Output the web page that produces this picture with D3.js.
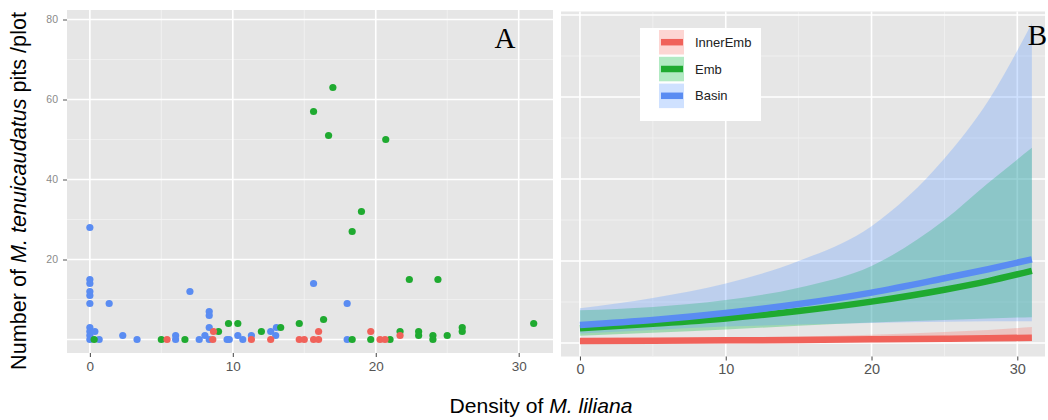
<!DOCTYPE html>
<html><head><meta charset="utf-8">
<script src="https://cdnjs.cloudflare.com/ajax/libs/d3/7.8.5/d3.min.js"></script>
<style>body{margin:0;background:#fff;} svg{display:block;font-family:"Liberation Sans",Arial,sans-serif;}</style>
</head><body><svg id="c" width="1048" height="420"></svg>
<script>
// ---------- Panel A: observed points ----------
const basinX = [0,0,0,0,0,0,0,0,0,0,0.35,0.65,1.35,2.3,3.3,6.0,6.0,7.0,7.65,8.05,8.35,8.35,8.35,8.35,9.6,9.75,10.35,10.7,11.3,12.65,13.0,13.05,15.65,18.0,18.0];
const basinY = [28,15,14,12,11,9,3,2,1,0,2,0,9,1,0,1,0,12,0,1,7,6,3,0,0,0,1,0,1,2,1,3,14,9,0];
const embX = [0.3,5.0,6.65,9.0,9.7,10.35,12.0,13.35,14.65,16.35,15.65,16.7,17.0,18.35,19.0,20.7,22.35,24.35,18.35,19.65,21.0,21.7,23.0,23.0,24.0,24.0,25.0,26.05,26.05,31.05];
const embY = [0,0,0,2,4,4,2,3,4,5,57,51,63,27,32,50,15,15,0,0,0,2,2,1,1,0,1,3,2,4];
const innerX = [5.4,8.65,8.6,11.3,12.65,14.65,15.0,15.65,16.0,16.0,19.65,20.3,20.65,21.7];
const innerY = [0,2,0,0,0,0,0,0,0,2,2,0,0,1];

// ---------- Panel B: fitted curves ----------
const fitX = [0,5,10,15,20,25,28,31];
const basinMean = [4.4,5.6,7.3,9.5,12.3,15.8,18.0,20.4];
const basinUpper = [8.5,11.0,14.5,20,28.5,45,59,78];
const basinLower = [2.3,3.2,4.0,4.5,4.9,5.2,5.3,5.3];
const embMean = [3.6,4.7,6.0,7.8,10.1,13.0,15.1,17.6];
const embUpper = [8.0,8.8,10.5,13.5,18.8,30.0,39.0,47.6];
const embLower = [1.8,2.5,3.3,4.2,5.0,5.6,6.0,6.3];
const innerMean = [0.5,0.55,0.65,0.75,0.9,1.05,1.15,1.3];
const innerUpper = [1.0,1.1,1.3,1.6,2.0,2.7,3.2,3.9];
const innerLower = [0.2,0.25,0.3,0.3,0.35,0.4,0.4,0.4];

const groups = ["InnerEmb","Emb","Basin"];
const xTicks = [0,10,20,30];
const yTicksA = [20,40,60,80];

const col = {InnerEmb:"#F0625A", Emb:"#1FAA30", Basin:"#5A8CF2"};
const ribCol = {InnerEmb:"#F8766D", Emb:"#00BA38", Basin:"#619CFF"};

const svg = d3.select("#c");
svg.append("rect").attr("width",1048).attr("height",420).attr("fill","#fff");

function panelBg(g, x, y, x0, x1, y0, y1, yMaj, yMin){
  g.append("rect").attr("x",x0).attr("y",y0).attr("width",x1-x0).attr("height",y1-y0).attr("fill","#E6E6E6");
  [5,15,25].forEach(v=>g.append("line").attr("x1",x(v)).attr("x2",x(v)).attr("y1",y0).attr("y2",y1).attr("stroke","#F2F2F2").attr("stroke-width",0.8));
  yMin.forEach(v=>g.append("line").attr("x1",x0).attr("x2",x1).attr("y1",y(v)).attr("y2",y(v)).attr("stroke","#F2F2F2").attr("stroke-width",0.8));
  xTicks.forEach(v=>g.append("line").attr("x1",x(v)).attr("x2",x(v)).attr("y1",y0).attr("y2",y1).attr("stroke","#fff").attr("stroke-width",1.6));
  yMaj.forEach(v=>g.append("line").attr("x1",x0).attr("x2",x1).attr("y1",y(v)).attr("y2",y(v)).attr("stroke","#fff").attr("stroke-width",1.6));
}

// ---- Panel A ----
const xA = d3.scaleLinear().domain([-1.6,32.4]).range([67,553]);
const yA = d3.scaleLinear().domain([-3.375,82.375]).range([353,10]);
const gA = svg.append("g");
panelBg(gA, xA, yA, 67, 553, 10, 353, [0,20,40,60,80], [10,30,50,70]);

const ptsData = [
  {g:"Basin", xs:basinX, ys:basinY},
  {g:"Emb", xs:embX, ys:embY},
  {g:"InnerEmb", xs:innerX, ys:innerY}
];
ptsData.forEach(s=>{
  gA.selectAll(null).data(s.xs.map((d,i)=>[d,s.ys[i]])).enter().append("circle")
    .attr("cx",d=>xA(d[0])).attr("cy",d=>yA(d[1])).attr("r",3.6).attr("fill",col[s.g]);
});

const axA = gA.append("g").attr("transform","translate(0,353)")
  .call(d3.axisBottom(xA).tickValues(xTicks).tickSize(4).tickPadding(4));
axA.select(".domain").remove();
axA.selectAll("line").attr("stroke","#444");
axA.selectAll("text").attr("font-size",13.5).attr("fill","#555").attr("font-family","Liberation Sans, Arial");

const ayA = gA.append("g").attr("transform","translate(67,0)")
  .call(d3.axisLeft(yA).tickValues(yTicksA).tickSize(4).tickPadding(5));
ayA.select(".domain").remove();
ayA.selectAll("line").attr("stroke","#555");
ayA.selectAll("text").attr("font-size",10.5).attr("fill","#8a8a8a").attr("font-family","Liberation Sans, Arial");

svg.append("text").attr("x",505).attr("y",48).attr("text-anchor","middle")
  .attr("font-family","Liberation Serif, Times New Roman, serif").attr("font-size",29).attr("fill","#000").text("A");

// ---- Panel B ----
const xB = d3.scaleLinear().domain([-1.3,31.9]).range([561,1045]);
const yB = d3.scaleLinear().domain([-3.29,80.85]).range([356.5,11.5]);
const gB = svg.append("g");
panelBg(gB, xB, yB, 561, 1045, 11.5, 356.5, [0,20,40,60,80], [10,30,50,70]);

const fits = {
  InnerEmb:{m:innerMean,u:innerUpper,l:innerLower},
  Emb:{m:embMean,u:embUpper,l:embLower},
  Basin:{m:basinMean,u:basinUpper,l:basinLower}
};
const area = d3.area().curve(d3.curveMonotoneX).x(d=>xB(d.x)).y0(d=>yB(d.l)).y1(d=>yB(d.u));
const line = d3.line().curve(d3.curveMonotoneX).x(d=>xB(d.x)).y(d=>yB(d.m));
groups.forEach(g=>{
  const f = fits[g];
  const data = fitX.map((x,i)=>({x:x,m:f.m[i],u:f.u[i],l:f.l[i]}));
  gB.append("path").datum(data).attr("d",area).attr("fill",ribCol[g]).attr("fill-opacity",0.3);
});
groups.forEach(g=>{
  const f = fits[g];
  const data = fitX.map((x,i)=>({x:x,m:f.m[i]}));
  gB.append("path").datum(data).attr("d",line).attr("fill","none").attr("stroke",col[g]).attr("stroke-width",6.5);
});

const axB = gB.append("g").attr("transform","translate(0,356.5)")
  .call(d3.axisBottom(xB).tickValues(xTicks).tickSize(4).tickPadding(3));
axB.select(".domain").remove();
axB.selectAll("line").attr("stroke","#444");
axB.selectAll("text").attr("font-size",14.5).attr("fill","#555").attr("font-family","Liberation Sans, Arial");

svg.append("text").attr("x",1047).attr("y",45).attr("text-anchor","end")
  .attr("font-family","Liberation Serif, Times New Roman, serif").attr("font-size",29).attr("fill","#000").text("B");

// Legend
const lg = svg.append("g");
lg.append("rect").attr("x",640).attr("y",28).attr("width",121).attr("height",93).attr("fill","#fff");
groups.forEach((g,i)=>{
  const y0 = 30 + i*26.8;
  lg.append("rect").attr("x",659).attr("y",y0).attr("width",25).attr("height",24.5).attr("fill",ribCol[g]).attr("fill-opacity",0.3);
  lg.append("line").attr("x1",661).attr("x2",683).attr("y1",y0+12.2).attr("y2",y0+12.2).attr("stroke",col[g]).attr("stroke-width",6.5);
  lg.append("text").attr("x",695).attr("y",y0+12.2).attr("dy","0.35em").attr("font-size",13).attr("fill","#222").text(g);
});

// Axis titles
function fitSize(t, target){
  const w = t.node().getComputedTextLength();
  const fs = parseFloat(t.attr("font-size"));
  t.attr("font-size", fs*target/w);
}
const yt = svg.append("text").attr("transform","translate(26,191) rotate(-90)").attr("text-anchor","middle")
  .attr("font-size",18).attr("fill","#000");
yt.append("tspan").text("Number of ");
yt.append("tspan").attr("font-style","italic").text("M. tenuicaudatus");
yt.append("tspan").text(" pits /plot");
fitSize(yt, 358);

const xt = svg.append("text").attr("x",541).attr("y",413).attr("text-anchor","middle")
  .attr("font-size",18).attr("fill","#000");
xt.append("tspan").text("Density of ");
xt.append("tspan").attr("font-style","italic").text("M. liliana");
fitSize(xt, 183);
</script>
</body></html>
